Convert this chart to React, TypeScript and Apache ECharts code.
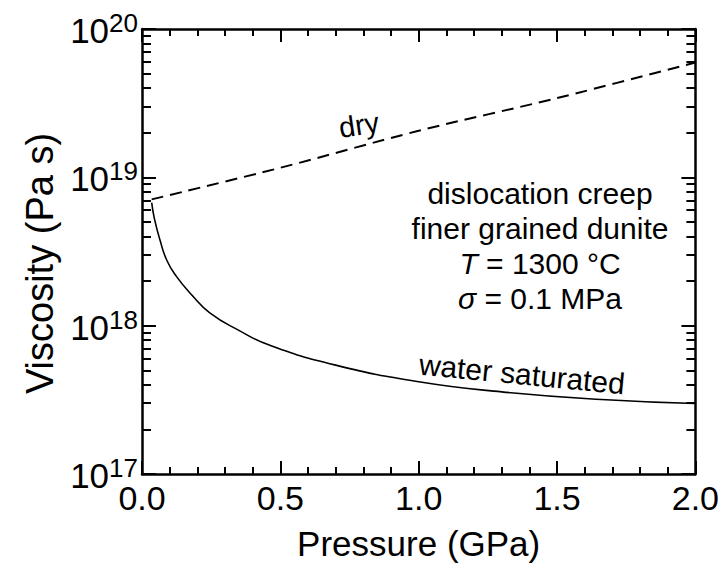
import React, { useEffect, useRef } from "react";
import * as echarts from "echarts";

// Pressure (GPa) and viscosity (Pa s)
const dryPressure = [0.035, 0.5, 1.0, 1.5, 2.0];
const dryViscosity = [7.1e18, 1.16e19, 2.06e19, 3.42e19, 5.94e19];

const wetPressure = [0.035, 0.045, 0.065, 0.09, 0.125, 0.18, 0.245, 0.35, 0.46, 0.7, 1.0, 1.3, 1.66, 2.0];
const wetViscosity = [6.76e18, 5.25e18, 3.78e18, 2.75e18, 2.14e18, 1.61e18, 1.22e18, 9.3e17, 7.4e17, 5.42e17, 4.19e17, 3.58e17, 3.18e17, 2.99e17];

const xTicks = { min: 0, max: 2, interval: 0.5 };
const yMajors = [1e17, 1e18, 1e19, 1e20];
const yDecades = [1e17, 1e18, 1e19];
const yMinorMultipliers = [2, 3, 4, 5, 6, 7, 8, 9];

const annotationLines = ["dislocation creep", "finer grained dunite", "{i|T} = 1300 °C", "{s|σ} = 0.1 MPa"];

const FONT = "'Liberation Sans', Arial, Helvetica, sans-serif";
const GRID = { left: 142, right: 25, top: 29, bottom: 97 };
const WIDTH = 722;
const HEIGHT = 571;

export default function App() {
  const ref = useRef<HTMLDivElement>(null);
  useEffect(() => {
    if (!ref.current) return;
    const chart = echarts.init(ref.current, null, { renderer: "svg" });
    const minorVals: number[] = [];
    yDecades.forEach((d) => yMinorMultipliers.forEach((m) => minorVals.push(m * d)));

    const plotW = WIDTH - GRID.left - GRID.right;
    const pxToX = (px: number) => (px / plotW) * (xTicks.max - xTicks.min);

    const tickLines = (vals: number[], lenPx: number) => {
      const dx = pxToX(lenPx);
      const data: any[] = [];
      vals.forEach((v) => {
        data.push({ coords: [[xTicks.min, v], [xTicks.min + dx, v]] });
        data.push({ coords: [[xTicks.max - dx, v], [xTicks.max, v]] });
      });
      return {
        type: "lines",
        coordinateSystem: "cartesian2d",
        silent: true,
        polyline: false,
        z: 6,
        lineStyle: { color: "#000", width: 2, opacity: 1, type: "solid" },
        effect: { show: false },
        data,
      };
    };

    const xBase = {
      type: "value",
      min: xTicks.min,
      max: xTicks.max,
      interval: xTicks.interval,
      axisLine: { show: true, onZero: false, lineStyle: { color: "#000", width: 2.5 } },
      axisTick: { show: true, inside: true, length: 13, lineStyle: { color: "#000", width: 2 } },
      minorTick: { show: true, splitNumber: 5, length: 7, lineStyle: { color: "#000", width: 2 } },
      splitLine: { show: false },
      minorSplitLine: { show: false },
    };
    const yBase = {
      type: "log",
      logBase: 10,
      min: 1e17,
      max: 1e20,
      axisLine: { show: true, onZero: false, lineStyle: { color: "#000", width: 2.5 } },
      axisTick: { show: false },
      splitLine: { show: false },
    };

    chart.setOption({
      animation: false,
      backgroundColor: "#fff",
      grid: { ...GRID, containLabel: false },
      xAxis: [
        {
          ...xBase,
          position: "bottom",
          name: "Pressure (GPa)",
          nameLocation: "middle",
          nameGap: 52,
          nameTextStyle: { fontFamily: FONT, fontSize: 35, color: "#000" },
          axisLabel: {
            show: true,
            margin: 7,
            fontFamily: FONT,
            fontSize: 34,
            color: "#000",
            formatter: (v: number) => v.toFixed(1),
          },
        },
        { ...xBase, position: "top", axisLabel: { show: false } },
      ],
      yAxis: [
        {
          ...yBase,
          position: "left",
          name: "Viscosity (Pa s)",
          nameLocation: "middle",
          nameGap: 82,
          nameRotate: 90,
          nameTextStyle: { fontFamily: FONT, fontSize: 38, color: "#000", padding: [0, 0, 0, -24] },
          axisLabel: {
            show: true,
            margin: 4,
            formatter: (v: number) => "{a|10}{b|" + Math.round(Math.log10(v)) + "}",
            rich: {
              a: { fontFamily: FONT, fontSize: 35, color: "#000", lineHeight: 38, verticalAlign: "bottom" },
              b: { fontFamily: FONT, fontSize: 26, color: "#000", lineHeight: 38, verticalAlign: "top" },
            },
          },
        },
        { ...yBase, position: "right", axisLabel: { show: false } },
      ],
      graphic: [
        {
          type: "text",
          x: 540,
          y: 176,
          style: {
            text: annotationLines.join("\n"),
            fontFamily: FONT,
            fontSize: 30,
            lineHeight: 35,
            fill: "#000",
            align: "center",
            verticalAlign: "top",
            rich: {
              i: { fontFamily: FONT, fontSize: 30, fontStyle: "italic", lineHeight: 35 },
              s: { fontFamily: FONT, fontSize: 30, fontStyle: "italic", lineHeight: 35 },
            },
          },
        },
        {
          type: "text",
          x: 359,
          y: 125,
          rotation: 0.15,
          style: { text: "dry", fontFamily: FONT, fontSize: 29, fill: "#000", align: "center", verticalAlign: "middle" },
        },
        {
          type: "text",
          x: 522,
          y: 374,
          rotation: -0.096,
          style: {
            text: "water saturated",
            fontFamily: FONT,
            fontSize: 30,
            fill: "#000",
            align: "center",
            verticalAlign: "middle",
          },
        },
      ],
      series: [
        {
          name: "dry",
          type: "line",
          data: dryPressure.map((p, i) => [p, dryViscosity[i]]),
          showSymbol: false,
          smooth: 0.3,
          lineStyle: { color: "#000", width: 2, type: [12, 7] },
        },
        {
          name: "water saturated",
          type: "line",
          data: wetPressure.map((p, i) => [p, wetViscosity[i]]),
          showSymbol: false,
          smooth: 0.5,
          lineStyle: { color: "#000", width: 1.6 },
        },
        tickLines(minorVals, 9),
        tickLines(yMajors, 14),
      ],
    });
    return () => chart.dispose();
  }, []);
  return <div ref={ref} style={{ position: "fixed", left: 0, top: 0, width: WIDTH, height: HEIGHT }} />;
}
